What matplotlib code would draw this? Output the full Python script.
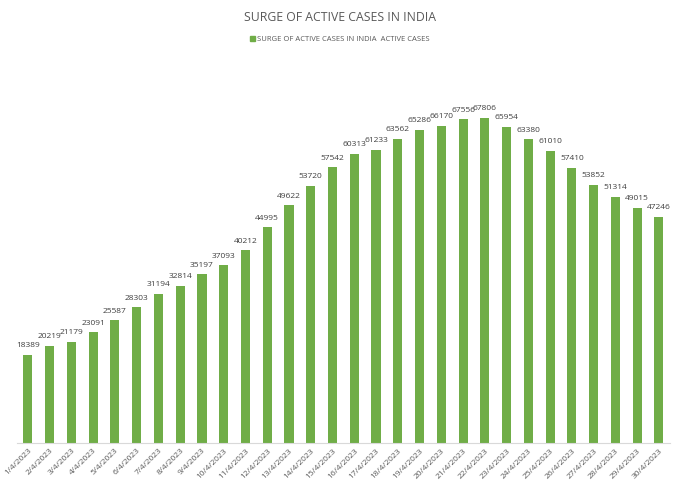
import matplotlib.pyplot as plt
from matplotlib.patches import Patch

dates = [f'{d}/4/2023' for d in range(1, 31)]
active_cases = [18389, 20219, 21179, 23091, 25587, 28303, 31194, 32814, 35197, 37093,
                40212, 44995, 49622, 53720, 57542, 60313, 61233, 63562, 65286, 66170,
                67556, 67806, 65954, 63380, 61010, 57410, 53852, 51314, 49015, 47246]

plt.rcParams['font.family'] = ['Open Sans', 'DejaVu Sans']

fig = plt.figure(figsize=(6.8, 4.87), dpi=100)
ax = fig.add_axes([0.025, 0.0903, 0.96, 0.787])

x = range(len(dates))
bars = ax.bar(x, active_cases, width=0.42, color='#70AD47')
ax.set_xlim(-0.5, len(dates) - 0.5)
ax.set_ylim(0, 80000)

for i, v in enumerate(active_cases):
    ax.text(i, v + 1200, str(v), ha='center', va='bottom', fontsize=6, color='#404040')

ax.set_xticks(list(x))
ax.set_xticklabels(dates, rotation=45, ha='right', rotation_mode='anchor',
                   fontsize=6, color='#595959')
ax.tick_params(axis='x', length=0, pad=3)
ax.set_yticks([])
for s in ['top', 'right', 'left']:
    ax.spines[s].set_visible(False)
ax.spines['bottom'].set_color('#d9d9d9')

fig.text(0.5, 0.965, 'SURGE OF ACTIVE CASES IN INDIA', ha='center', va='center',
         fontsize=8.8, color='#595959')
fig.legend(handles=[Patch(color='#70AD47', label='SURGE OF ACTIVE CASES IN INDIA  ACTIVE CASES')],
           loc='center', bbox_to_anchor=(0.5, 0.918), frameon=False, fontsize=5.5,
           handlelength=0.6, handleheight=0.6, handletextpad=0.3, labelcolor='#595959')

fig.savefig('out.png', dpi=100)
